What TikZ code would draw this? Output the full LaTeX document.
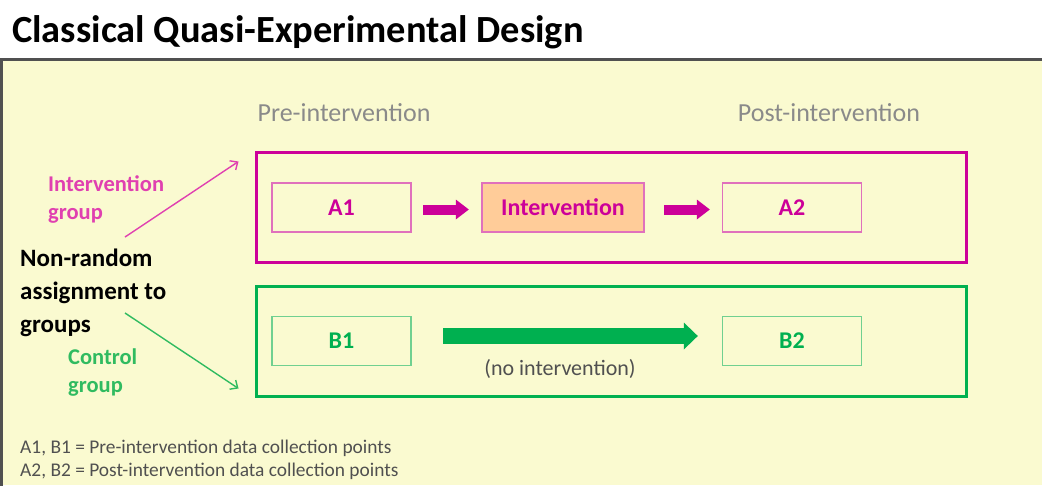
\documentclass[tikz,border=0pt]{standalone}
\usepackage{fontspec}
\setmainfont{Carlito}
\usetikzlibrary{arrows.meta,shapes.arrows}
\definecolor{bgyellow}{HTML}{FAFAD0}
\definecolor{framegray}{HTML}{505050}
\definecolor{mag}{HTML}{CC0099}
\definecolor{maglight}{HTML}{E070BC}
\definecolor{maglabel}{HTML}{E040B0}
\definecolor{orangefill}{HTML}{FFCC99}
\definecolor{grn}{HTML}{00B050}
\definecolor{grnlight}{HTML}{70D090}
\definecolor{grnlabel}{HTML}{30BB60}
\definecolor{headgray}{HTML}{8A8A8A}
\definecolor{notegray}{HTML}{505050}
\tikzset{
  stage/.style={draw=#1, line width=1.6pt, minimum width=139pt, minimum height=49pt,
    inner sep=0pt, font=\fontsize{24}{28}\selectfont\bfseries, text=#1!80!black},
  groupbox/.style={draw=#1, line width=3pt},
  head/.style={font=\fontsize{26}{30}\selectfont, text=headgray},
  thinarrow/.style={draw=#1, line width=1.4pt, -{Straight Barb[length=6pt,width=11pt,line width=1.4pt]}},
  grouplabel/.style={align=left, anchor=north west, inner sep=0pt, font=\fontsize{22.5}{28}\selectfont\bfseries},
}
\begin{document}
\begin{tikzpicture}[x=1pt,y=-1pt]
\useasboundingbox (0,0) rectangle (1042,485);
% background and frame
\fill[white] (0,0) rectangle (1042,485);
\fill[bgyellow] (1,59) rectangle (1042,485);
\draw[framegray, line width=3pt] (1.5,495) -- (1.5,59) -- (1050,59);
% title
\node[anchor=base west, inner sep=0pt, font=\fontsize{38.4}{44}\selectfont\bfseries] (title) at (12,42) {Classical Quasi-Experimental Design};
% headers
\node[head] (pre) at (344,113) {Pre-intervention};
\node[head] (post) at (829,113) {Post-intervention};
% group boxes
\node[groupbox=mag, minimum width=710pt, minimum height=110pt, inner sep=0pt] (gA) at (611,207) {};
\node[groupbox=grn, minimum width=710pt, minimum height=110pt, inner sep=0pt] (gB) at (611,341) {};
% stage boxes
\node[stage=maglight, text=mag] (A1) at (341.5,207.5) {A1};
\node[stage=maglight, fill=orangefill, minimum width=162pt, text=mag] (I) at (563,207.5) {Intervention};
\node[stage=maglight, text=mag] (A2) at (792,207.5) {A2};
\node[stage=grnlight, text=grn] (B1) at (341.5,341) {B1};
\node[stage=grnlight, text=grn] (B2) at (792,341) {B2};
% block arrows
\coordinate (m1) at ([xshift=11pt,yshift=-2pt]A1.east);
\fill[mag] (m1) ++(0,-5) rectangle ++(33,10);
\fill[mag] (m1) ++(33,-10) -- ++(13,10) -- ++(-13,10) -- cycle;
\coordinate (m2) at ([xshift=19pt,yshift=-2pt]I.east);
\fill[mag] (m2) ++(0,-5) rectangle ++(33,10);
\fill[mag] (m2) ++(33,-10) -- ++(13,10) -- ++(-13,10) -- cycle;
\coordinate (gs) at ([xshift=31pt,yshift=5pt]B1.east);
\fill[grn] (gs) ++(0,-8) rectangle ++(242,16);
\fill[grn] (gs) ++(241,-13.5) -- ++(14,13.5) -- ++(-14,13.5) -- cycle;
\node[font=\fontsize{22}{26}\selectfont, text=notegray] (noint) at (560,369) {(no intervention)};
% left labels
\node[grouplabel, text=black, font=\fontsize{25}{33}\selectfont\bfseries] (nr) at (20,249) {Non-random\\assignment to\\groups};
\node[grouplabel, text=maglabel] (ig) at (48,175) {Intervention\\group};
\node[grouplabel, text=grnlabel] (cg) at (68,349) {Control\\group};
\coordinate (iaS) at (125,237);
\coordinate (caS) at (125,313);
\draw[thinarrow=maglabel] (iaS) -- ([xshift=-16pt,yshift=-11pt]gA.north west);
\draw[thinarrow=grnlabel] (caS) -- ([xshift=-16pt,yshift=9pt]gB.south west);
% footnotes
\node[anchor=base west, inner sep=0pt, font=\fontsize{19.4}{22}\selectfont, text=notegray] (n1) at (20,453) {A1, B1 = Pre-intervention data collection points};
\node[anchor=base west, inner sep=0pt, font=\fontsize{19.4}{22}\selectfont, text=notegray] (n2) at (20,476) {A2, B2 = Post-intervention data collection points};
\end{tikzpicture}
\end{document}
